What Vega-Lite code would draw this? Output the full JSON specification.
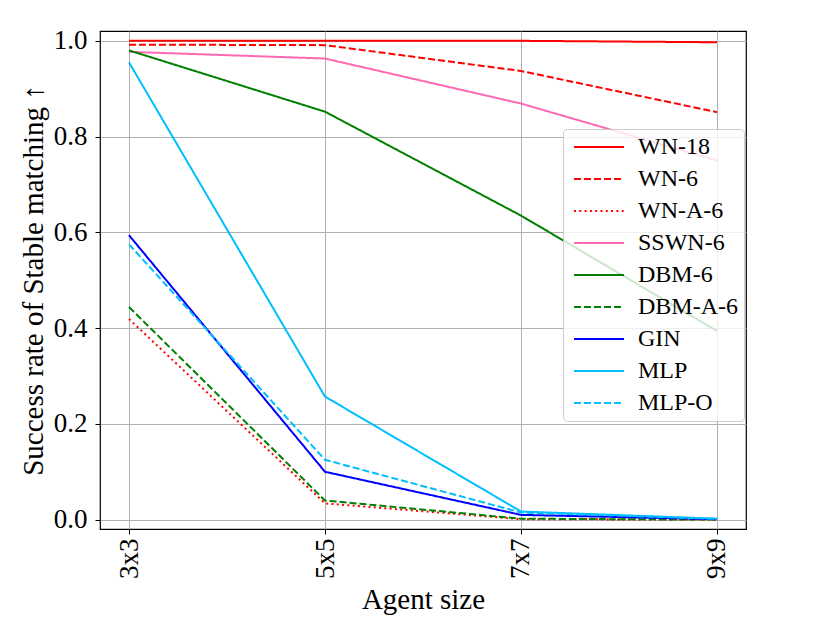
{
  "$schema": "https://vega.github.io/schema/vega-lite/v6.json",
  "width": 646,
  "height": 498,
  "autosize": {"type": "none"},
  "padding": {"left": 100, "top": 31, "right": 84, "bottom": 94},
  "background": "white",
  "config": {
    "font": "Liberation Serif, DejaVu Serif, serif",
    "view": {"stroke": "black", "strokeWidth": 1.2},
    "axis": {
      "labelFont": "Liberation Serif, DejaVu Serif, serif",
      "titleFont": "Liberation Serif, DejaVu Serif, serif",
      "labelFontSize": 27,
      "titleFontSize": 29,
      "titleFontWeight": "normal",
      "labelColor": "black",
      "titleColor": "black",
      "domain": false,
      "tickColor": "black",
      "tickSize": 5,
      "tickWidth": 1,
      "gridColor": "#b0b0b0",
      "gridWidth": 1,
      "gridOpacity": 1
    },
    "legend": {
      "labelFont": "Liberation Serif, DejaVu Serif, serif",
      "labelFontSize": 24,
      "labelColor": "black"
    }
  },
  "data": {
    "values": [
      {"size": "3x3", "series": "WN-18", "value": 1.0},
      {"size": "5x5", "series": "WN-18", "value": 1.0},
      {"size": "7x7", "series": "WN-18", "value": 1.0},
      {"size": "9x9", "series": "WN-18", "value": 0.997},
      {"size": "3x3", "series": "WN-6", "value": 0.992},
      {"size": "5x5", "series": "WN-6", "value": 0.991},
      {"size": "7x7", "series": "WN-6", "value": 0.937},
      {"size": "9x9", "series": "WN-6", "value": 0.851},
      {"size": "3x3", "series": "WN-A-6", "value": 0.419},
      {"size": "5x5", "series": "WN-A-6", "value": 0.034},
      {"size": "7x7", "series": "WN-A-6", "value": 0.001},
      {"size": "9x9", "series": "WN-A-6", "value": 0.0},
      {"size": "3x3", "series": "SSWN-6", "value": 0.977},
      {"size": "5x5", "series": "SSWN-6", "value": 0.963},
      {"size": "7x7", "series": "SSWN-6", "value": 0.869},
      {"size": "9x9", "series": "SSWN-6", "value": 0.75},
      {"size": "3x3", "series": "DBM-6", "value": 0.98},
      {"size": "5x5", "series": "DBM-6", "value": 0.852},
      {"size": "7x7", "series": "DBM-6", "value": 0.635},
      {"size": "9x9", "series": "DBM-6", "value": 0.394},
      {"size": "3x3", "series": "DBM-A-6", "value": 0.444},
      {"size": "5x5", "series": "DBM-A-6", "value": 0.04},
      {"size": "7x7", "series": "DBM-A-6", "value": 0.002},
      {"size": "9x9", "series": "DBM-A-6", "value": 0.0},
      {"size": "3x3", "series": "GIN", "value": 0.594},
      {"size": "5x5", "series": "GIN", "value": 0.1},
      {"size": "7x7", "series": "GIN", "value": 0.01},
      {"size": "9x9", "series": "GIN", "value": 0.001},
      {"size": "3x3", "series": "MLP", "value": 0.955},
      {"size": "5x5", "series": "MLP", "value": 0.257},
      {"size": "7x7", "series": "MLP", "value": 0.017},
      {"size": "9x9", "series": "MLP", "value": 0.002},
      {"size": "3x3", "series": "MLP-O", "value": 0.575},
      {"size": "5x5", "series": "MLP-O", "value": 0.125},
      {"size": "7x7", "series": "MLP-O", "value": 0.015},
      {"size": "9x9", "series": "MLP-O", "value": 0.002}
    ]
  },
  "mark": {"type": "line", "strokeWidth": 2, "clip": true},
  "encoding": {
    "x": {
      "field": "size",
      "type": "ordinal",
      "scale": {"type": "point", "padding": 0.148},
      "axis": {
        "title": "Agent size",
        "labelAngle": 270,
        "labelPadding": 4,
        "titlePadding": 7,
        "grid": true
      }
    },
    "y": {
      "field": "value",
      "type": "quantitative",
      "scale": {"domain": [-0.0195, 1.0205], "nice": false, "zero": false},
      "axis": {
        "title": "Success rate of Stable matching ↑",
        "values": [0, 0.2, 0.4, 0.6, 0.8, 1.0],
        "format": ".1f",
        "labelPadding": 8,
        "titlePadding": 5
      }
    },
    "color": {
      "field": "series",
      "type": "nominal",
      "scale": {
        "domain": ["WN-18", "WN-6", "WN-A-6", "SSWN-6", "DBM-6", "DBM-A-6", "GIN", "MLP", "MLP-O"],
        "range": ["#ff0000", "#ff0000", "#ff0000", "#ff69b4", "#008000", "#008000", "#0000ff", "#00bfff", "#00bfff"]
      },
      "legend": {
        "title": null,
        "orient": "none",
        "legendX": 463,
        "legendY": 98,
        "symbolType": "M-2.5,0H2.5",
        "symbolSize": 400,
        "symbolStrokeWidth": 2,
        "symbolOffset": 18,
        "labelOffset": 27,
        "rowPadding": 8,
        "padding": 6,
        "fillColor": "rgba(255,255,255,0.8)",
        "strokeColor": "#cccccc",
        "cornerRadius": 4
      }
    },
    "strokeDash": {
      "field": "series",
      "type": "nominal",
      "scale": {
        "domain": ["WN-18", "WN-6", "WN-A-6", "SSWN-6", "DBM-6", "DBM-A-6", "GIN", "MLP", "MLP-O"],
        "range": [[1, 0], [7, 3], [2, 3.3], [1, 0], [1, 0], [7, 3], [1, 0], [1, 0], [7, 3]]
      },
      "legend": null
    }
  }
}
